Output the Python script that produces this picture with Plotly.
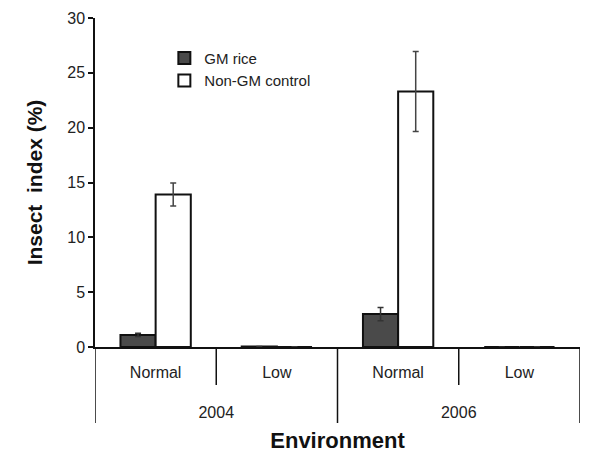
import plotly.graph_objects as go

environments = ["Normal", "Low", "Normal", "Low"]
years = ["2004", "2006"]
gm_rice = [1.1, 0.05, 3.0, 0.0]
gm_err = [0.15, 0.0, 0.6, 0.0]
non_gm = [13.9, 0.0, 23.3, 0.0]
non_gm_err = [1.05, 0.0, 3.65, 0.0]
y_ticks = [0, 5, 10, 15, 20, 25, 30]

FONT = "Arial, Liberation Sans, sans-serif"
xpos = list(range(len(environments)))

fig = go.Figure()
fig.add_trace(go.Bar(
    x=xpos, y=gm_rice, name="GM rice",
    marker=dict(color="#4a4a4a", line=dict(color="#111", width=2)),
    error_y=dict(type="data", array=gm_err, color="#333", thickness=1.5, width=3),
))
fig.add_trace(go.Bar(
    x=xpos, y=non_gm, name="Non-GM control",
    marker=dict(color="white", line=dict(color="#111", width=2)),
    error_y=dict(type="data", array=non_gm_err, color="#444", thickness=1.5, width=3),
))
# invisible trace to anchor year axis
fig.add_trace(go.Scatter(x=[0.5, 2.5], y=[0, 0], xaxis="x2", mode="markers",
                         marker=dict(opacity=0), showlegend=False, hoverinfo="skip"))

shapes = []
for b in [-0.5, 0.5, 1.5, 2.5, 3.5]:
    long = b in (-0.5, 1.5, 3.5)
    shapes.append(dict(type="line", xref="x", yref="paper", x0=b, x1=b, y0=0,
                       y1=-0.231 if long else -0.1155,
                       line=dict(color="#111", width=1.5)))

fig.update_layout(
    width=586, height=454,
    margin=dict(l=87, r=14, t=10, b=115, autoexpand=False),
    paper_bgcolor="white", plot_bgcolor="white",
    barmode="group", bargap=0.42, bargroupgap=0,
    font=dict(family=FONT, color="#222", size=15),
    showlegend=True,
    legend=dict(x=0.143, y=0.928, xanchor="left", yanchor="top",
                font=dict(size=15, family=FONT, color="#222"),
                bgcolor="rgba(0,0,0,0)", itemwidth=30, tracegroupgap=0),
    xaxis=dict(range=[-0.5, 3.5], tickvals=xpos, ticktext=environments,
               showline=True, linecolor="#111", linewidth=1.5, ticks="",
               showgrid=False, zeroline=False, ticklabelstandoff=10, automargin=False,
               tickfont=dict(size=16, family=FONT, color="#222")),
    xaxis2=dict(range=[-0.5, 3.5], overlaying="x", side="bottom", anchor="y",
                tickvals=[0.5, 2.5], ticktext=years, showline=False, ticks="",
                showgrid=False, zeroline=False, ticklabelstandoff=54, automargin=False,
                tickfont=dict(size=16, family=FONT, color="#222"),
                title=dict(text="<b>Environment</b>", font=dict(size=22, family=FONT, color="#111"),
                           standoff=12)),
    yaxis=dict(range=[0, 30], tickvals=y_ticks, showline=True, linecolor="#111",
               linewidth=1.5, ticks="outside", ticklen=5, tickwidth=1.5, tickcolor="#111",
               showgrid=False, zeroline=False, automargin=False,
               tickfont=dict(size=16, family=FONT, color="#222"),
               title=dict(text="<b>Insect  index (%)</b>", font=dict(size=21, family=FONT, color="#111"),
                          standoff=19)),
    shapes=shapes,
)
fig.write_html("out.html")
